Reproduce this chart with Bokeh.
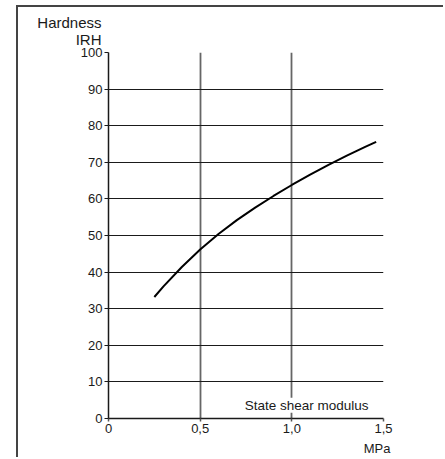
from bokeh.plotting import figure
from bokeh.models import Range1d, FixedTicker, Label, Title
from bokeh.embed import file_html
from bokeh.resources import INLINE

# Shear modulus (MPa) vs. hardness (IRH)
modulus = [0.25, 0.30, 0.40, 0.50, 0.60, 0.70, 0.80, 0.90, 1.00, 1.10, 1.20, 1.30, 1.40, 1.46]
hardness = [33.2, 36.1, 41.4, 46.2, 50.4, 54.2, 57.6, 60.8, 63.8, 66.6, 69.3, 71.8, 74.2, 75.6]

x_ticks = [0, 0.5, 1.0, 1.5]
x_tick_labels = ["0", "0,5", "1,0", "1,5"]
y_ticks = list(range(0, 101, 10))

FONT = "Liberation Sans"
INK = "#1a1a1a"

p = figure(
    width=427, height=452,
    x_range=Range1d(0, 1.5), y_range=Range1d(0, 100),
    output_backend="svg", toolbar_location=None,
    min_border_left=90, min_border_right=62,
    min_border_top=40, min_border_bottom=41,
    margin=(5, 0, 0, 16),
    styles={"border-left": "2px solid #444", "border-top": "2px solid #444"},
)
p.outline_line_color = None
p.background_fill_color = "white"
p.border_fill_color = "white"

# axes
p.xaxis.ticker = FixedTicker(ticks=x_ticks)
p.xaxis.major_label_overrides = {t: s for t, s in zip(x_ticks, x_tick_labels)}
p.yaxis.ticker = FixedTicker(ticks=y_ticks)
for ax in (p.xaxis, p.yaxis):
    ax.axis_line_color = INK
    ax.axis_line_width = 1.5
    ax.major_tick_line_color = INK
    ax.minor_tick_line_color = None
    ax.major_tick_in = 0
    ax.major_label_text_font = FONT
    ax.major_label_text_font_size = "13px"
    ax.major_label_text_color = INK
p.xaxis.major_tick_out = 3
p.xaxis.major_tick_line_color = "#555555"
p.xaxis.major_tick_line_width = 1.5
p.xaxis.major_label_standoff = 2
p.yaxis.major_tick_out = 4
p.yaxis.major_label_standoff = 2

# grid: black horizontals, grey verticals
p.ygrid.ticker = FixedTicker(ticks=y_ticks)
p.ygrid.grid_line_color = INK
p.ygrid.grid_line_width = 1.2
p.xgrid.ticker = FixedTicker(ticks=[0.5, 1.0, 1.5])
p.xgrid.grid_line_color = "#666666"
p.xgrid.grid_line_width = 1.8

# curve
p.line(modulus, hardness, line_color="black", line_width=2)

# y-axis caption: two right-aligned lines above the tick labels
p.title = Title(text="Hardness\nIRH", align="right", offset=282, standoff=9,
                text_font=FONT, text_font_size="15px", text_font_style="normal",
                text_line_height=1.02, text_align="right", text_color=INK)

# x-axis unit, below the last tick label
p.add_layout(Title(text="MPa", align="right", offset=-7, standoff=6,
                   text_font=FONT, text_font_size="13px", text_font_style="normal",
                   text_color=INK), "below")

p.add_layout(Label(x=1.418, y=1.6, text="State shear modulus", text_align="right",
                   text_font=FONT, text_font_size="13.5px", text_color=INK,
                   background_fill_color="white"))

open("out.html", "w").write(file_html(p, INLINE))
